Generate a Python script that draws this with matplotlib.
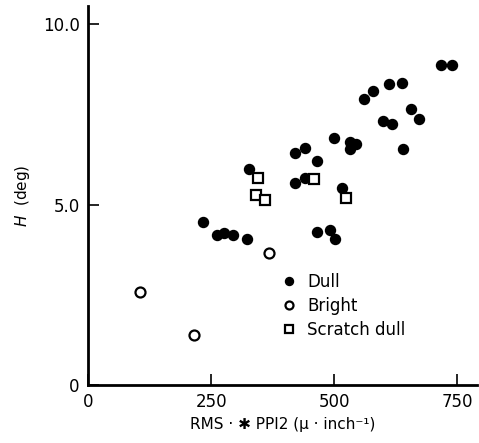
import matplotlib
matplotlib.use("Agg")
import matplotlib.pyplot as plt

# values
dull_x = [717, 740, 612, 638, 578, 560, 655, 672, 598, 617, 500, 532, 545, 532,
          640, 440, 420, 465, 327, 440, 421, 516, 234, 262, 275, 295, 323, 465,
          492, 502]
dull_y = [8.86, 8.86, 8.33, 8.37, 8.14, 7.92, 7.65, 7.37, 7.32, 7.23, 6.85, 6.74,
          6.67, 6.53, 6.53, 6.56, 6.43, 6.20, 5.98, 5.74, 5.59, 5.46, 4.53, 4.16,
          4.20, 4.16, 4.06, 4.23, 4.29, 4.06]

bright_x = [106, 215, 368]
bright_y = [2.58, 1.39, 3.65]

scratch_x = [344, 458, 341, 360, 524]
scratch_y = [5.74, 5.71, 5.26, 5.12, 5.19]

xticks = [0, 250, 500, 750]
xticklabels = ["0", "250", "500", "750"]
yticks = [0, 5, 10]
yticklabels = ["0", "5.0", "10.0"]

fig = plt.figure(figsize=(4.79, 4.43), dpi=100)
ax = fig.add_axes([0.184, 0.131, 0.812, 0.855])

ax.plot(dull_x, dull_y, 'o', color='black', ms=7.2, ls='none', label='Dull')
ax.plot(bright_x, bright_y, 'o', mfc='white', mec='black', mew=1.6, ms=7.2,
        ls='none', label='Bright')
ax.plot(scratch_x, scratch_y, 's', mfc='white', mec='black', mew=1.6, ms=6.5,
        ls='none', label='Scratch dull')

ax.set_xlim(0, 790)
ax.set_ylim(0, 10.5)
ax.set_xticks(xticks)
ax.set_xticklabels(xticklabels)
ax.set_yticks(yticks)
ax.set_yticklabels(yticklabels)
ax.tick_params(direction='in', length=8, width=1.2, labelsize=12, pad=6)

for s in ['top', 'right']:
    ax.spines[s].set_visible(False)
for s in ['left', 'bottom']:
    ax.spines[s].set_linewidth(2)

ax.set_xlabel("RMS · ✱ PPI2 (μ · inch⁻¹)", fontsize=11, labelpad=4)
ax.set_ylabel("$H$  (deg)", fontsize=11, labelpad=8)

ax.legend(loc='upper left', bbox_to_anchor=(0.49, 0.295), frameon=False,
          fontsize=12, handletextpad=0.5, labelspacing=0.35, borderpad=0,
          borderaxespad=0, handlelength=1.2, markerscale=0.8)

fig.savefig("out.png", dpi=100)
